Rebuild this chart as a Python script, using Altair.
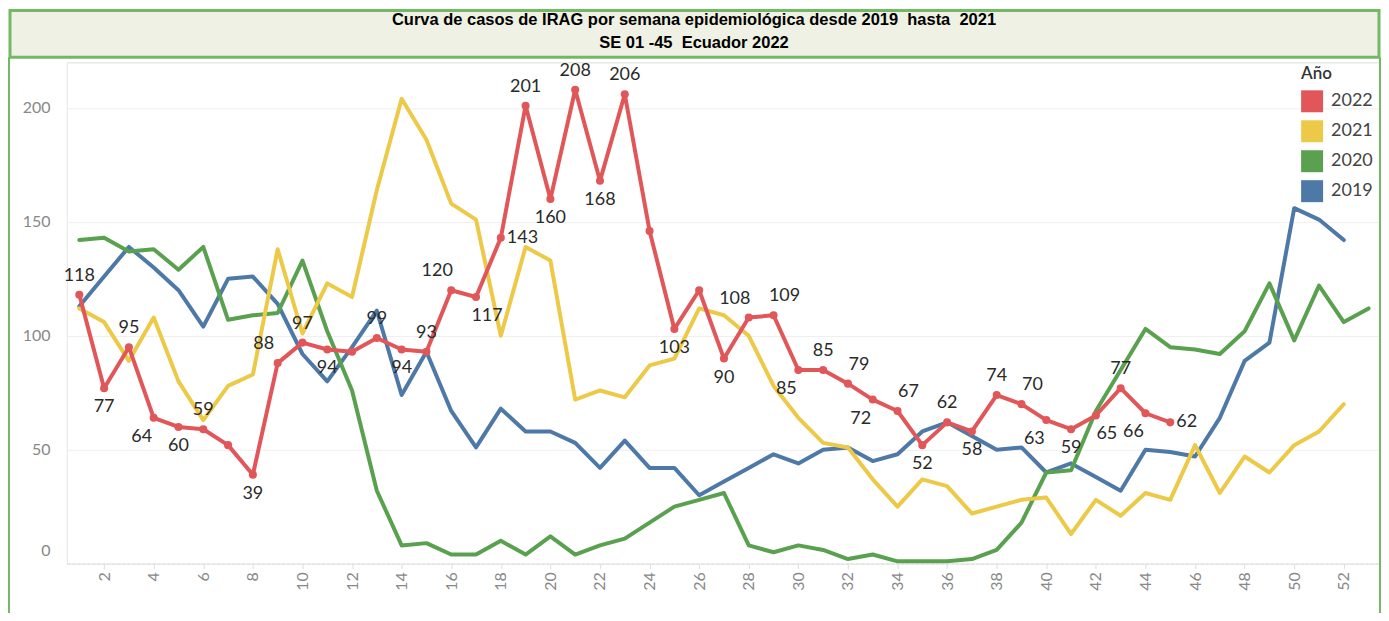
import altair as alt
import pandas as pd

# ---------------- data ----------------
YEARS = ["2022", "2021", "2020", "2019"]
COLORS = ["#e15759", "#edc948", "#59a14f", "#4e79a7"]

V2019 = [113, 126, 139, 130, 120, 104, 125, 126, 114, 92,
         80, 95, 111, 74, 93, 67, 51, 68, 58, 58,
         53, 42, 54, 42, 42, 30, 36, 42, 48, 44,
         50, 51, 45, 48, 58, 62, 56, 50, 51, 40,
         44, 38, 32, 50, 49, 47, 64, 89, 97, 156,
         151, 142]
V2020 = [142, 143, 137, 138, 129, 139, 107, 109, 110, 133,
         102, 76, 32, 8, 9, 4, 4, 10, 4, 12,
         4, 8, 11, 18, 25, 28, 31, 8, 5, 8,
         6, 2, 4, 1, 1, 1, 2, 6, 18, 40,
         41, 67, 85, 103, 95, 94, 92, 102, 123, 98,
         122, 106, 112]
V2021 = [112, 106, 89, 108, 80, 63, 78, 83, 138, 101,
         123, 117, 164, 204, 186, 158, 151, 100, 139, 133,
         72, 76, 73, 87, 90, 112, 109, 100, 78, 64,
         53, 51, 37, 25, 37, 34, 22, 25, 28, 29,
         13, 28, 21, 31, 28, 52, 31, 47, 40, 52,
         58, 70]
V2022 = [118, 77, 95, 64, 60, 59, 52, 39, 88, 97,
         94, 93, 99, 94, 93, 120, 117, 143, 201, 160,
         208, 168, 206, 146, 103, 120, 90, 108, 109, 85,
         85, 79, 72, 67, 52, 62, 58, 74, 70, 63,
         59, 65, 77, 66, 62]
LABEL_POS_2022 = ["above", "below", "above", "below-left", "below", "above", "none", "below", "above-left", "above",
                  "below", "none", "above", "below", "above", "above-left", "below-right", "right", "above", "below",
                  "above", "below", "above", "none", "below", "none", "below", "above-left", "above-right", "below-left",
                  "above", "above-right", "below-left", "above-right", "below", "above", "below", "above", "above-right", "below-left",
                  "below", "below-right", "above", "below-left", "right"]
X_TICKS = list(range(2, 53, 2))
Y_TICKS = [0, 50, 100, 150, 200]
TITLE_LINES = ["Curva de casos de IRAG por semana epidemiológica desde 2019\u00a0 hasta\u00a0 2021",
               "SE 01 -45\u00a0 Ecuador 2022"]

rows = []
for yr, vals in [("2019", V2019), ("2020", V2020), ("2021", V2021), ("2022", V2022)]:
    for i, v in enumerate(vals):
        rows.append({"week": i + 1, "value": v, "year": yr})
df = pd.DataFrame(rows)
df22 = pd.DataFrame({"week": list(range(1, len(V2022) + 1)), "value": V2022, "pos": LABEL_POS_2022})

W, H = 1316, 502
FONT = "Lato"

xenc = alt.X("week:Q", scale=alt.Scale(domain=[0.5, 53.5], nice=False, zero=False),
             axis=alt.Axis(values=X_TICKS, labelAngle=270, labelFontSize=16, labelColor="#888888",
                           labelFont=FONT, domainColor="#dddddd", domainDash=[3, 2], tickColor="#dddddd",
                           tickSize=5, labelPadding=3, grid=False, title=None))
yenc = alt.Y("value:Q", scale=alt.Scale(domain=[0, 220], nice=False),
             axis=alt.Axis(values=Y_TICKS, labelFontSize=16, labelColor="#888888", labelFont=FONT,
                           ticks=False, labelPadding=17, domainColor="#ececec", gridColor="#efefef",
                           labelFlush=True, labelFlushOffset=-5, title=None))

lines = alt.Chart(df).mark_line(strokeWidth=4, strokeJoin="round", strokeCap="round").encode(
    x=xenc, y=yenc,
    color=alt.Color("year:N", scale=alt.Scale(domain=YEARS, range=COLORS), legend=None),
    order=alt.Order("week:Q"),
)

legend_src = alt.Chart(df).transform_filter("datum.week < 0").mark_square(filled=True, opacity=1).encode(
    x=alt.X("week:Q"), y=alt.Y("value:Q"),
    color=alt.Color("year:N", scale=alt.Scale(domain=YEARS, range=COLORS),
                    legend=alt.Legend(title="Año", orient="none", legendX=1236, legendY=4,
                                      titleFontSize=17, titleColor="#333333", titleFont=FONT,
                                      titleFontWeight=600, titlePadding=7,
                                      labelFontSize=18, labelColor="#444444", labelFont=FONT,
                                      symbolType="square", symbolSize=484, symbolStrokeWidth=0,
                                      symbolOpacity=1, rowPadding=8, labelOffset=8)),
)

points = alt.Chart(df22).mark_circle(size=65, opacity=1, color="#e15759").encode(
    x=alt.X("week:Q"), y=alt.Y("value:Q"))

POS = {"above": (0, -19, "center"), "below": (0, 19, "center"),
       "above-left": (-14, -19, "center"), "above-right": (11, -19, "center"),
       "below-left": (-12, 19, "center"), "below-right": (11, 19, "center"),
       "right": (6, 0, "left")}
texts = []
for name, (dx, dy, al) in POS.items():
    texts.append(alt.Chart(df22).transform_filter(alt.datum.pos == name).mark_text(
        dx=dx, dy=dy, align=al, baseline="middle", fontSize=18, font=FONT, color="#2a2a2a").encode(
        x=alt.X("week:Q"), y=alt.Y("value:Q"), text=alt.Text("value:Q")))

one = pd.DataFrame({"t": [0]})
title_box = alt.Chart(one).mark_rect(fill="#eef1e3", stroke="#72b865", strokeWidth=3).encode(
    x=alt.value(-57), x2=alt.value(1314), y=alt.value(-52), y2=alt.value(-5))
frame_l = alt.Chart(one).mark_rule(color="#72b865", strokeWidth=2).encode(
    x=alt.value(-58), y=alt.value(-5), y2=alt.value(560))
frame_r = alt.Chart(one).mark_rule(color="#72b865", strokeWidth=2).encode(
    x=alt.value(1315), y=alt.value(-5), y2=alt.value(560))
tdf = pd.DataFrame({"line": TITLE_LINES, "yy": [-42, -19]})
title_txt = alt.Chart(tdf).mark_text(fontSize=16.5, fontWeight="bold", font="Liberation Sans",
                                     color="#000000", align="center", baseline="middle").encode(
    x=alt.value(628), y=alt.Y("yy:Q", scale=None), text="line:N")

chart = alt.layer(title_box, frame_l, frame_r, title_txt, lines, legend_src, points, *texts).resolve_scale(
    color="independent"
).properties(
    width=W, height=H,
    autosize=alt.AutoSizeParams(type="none"),
    padding={"left": 59, "top": 54, "right": 0, "bottom": 49},
).configure_view(strokeOpacity=0).configure(background="white")

chart.save("out.html", embed_options={"renderer": "svg", "actions": False})
